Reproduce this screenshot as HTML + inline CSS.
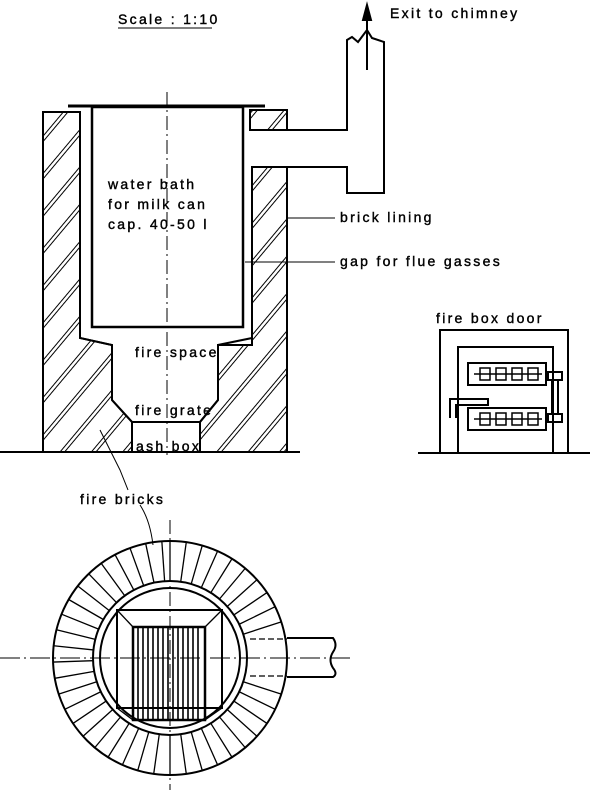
<!DOCTYPE html>
<html><head><meta charset="utf-8"><style>
body{margin:0;background:#fff}
svg{display:block}
text{font-family:"Liberation Sans",sans-serif;font-size:14px;fill:#000;letter-spacing:2.3px;stroke:#000;stroke-width:0.4}
</style></head><body>
<svg width="602" height="791" viewBox="0 0 602 791" xmlns="http://www.w3.org/2000/svg">
<defs>
<pattern id="h" patternUnits="userSpaceOnUse" width="24" height="24" patternTransform="rotate(40)">
<line x1="0" y1="0" x2="0" y2="24" stroke="#000" stroke-width="2"/>
<line x1="4" y1="0" x2="4" y2="24" stroke="#000" stroke-width="1"/>
</pattern>
</defs>
<g stroke="#000" stroke-width="2" fill="none">
<path d="M43,112 H80 V338 L112,345 V400 L132,422 V452 H43 Z" fill="url(#h)"/>
<path d="M252,167 H287 V452 H200 V422 L218,400 V345 H252 Z" fill="url(#h)"/>
<rect x="250" y="110" width="37" height="20" fill="url(#h)"/>
<path d="M43,112 H80 V338 L112,345 V400 L132,422 V452"/>
<path d="M287,167 V452 M252,167 V338 L218,345 V400 L200,422 V452"/>
<rect x="92" y="107" width="151" height="220" fill="#fff" stroke-width="2.5"/>
<line x1="68" y1="106" x2="265" y2="106" stroke-width="3"/>
<path d="M132,422 H200"/>
<path d="M287,130 H347 V40 L352,37 L358,42 L367,30 L372,38 L384,42 V193 H347 V167 H287"/>
<line x1="367" y1="70" x2="367" y2="8"/>
<path d="M363,20 L367,5 L371,20 Z" fill="#000"/>
<line x1="0" y1="452" x2="300" y2="452"/>
<line x1="418" y1="453" x2="590" y2="453"/>
<line x1="167" y1="92" x2="167" y2="455" stroke-width="1" stroke-dasharray="14,4,2,4"/>
<line x1="287" y1="218" x2="335" y2="218" stroke-width="1"/>
<line x1="245" y1="262" x2="335" y2="262" stroke-width="1"/>
<path d="M100,430 L120,470 L128,490" stroke-width="1"/>
<path d="M140,505 Q150,520 153,545" stroke-width="1"/>
<rect x="440" y="330" width="128" height="123"/>
<path d="M458,453 V347 H553 V453"/>
<rect x="468" y="363" width="78" height="22"/>
<rect x="468" y="408" width="78" height="22"/>
<g stroke-width="1.5">
<rect x="480" y="368" width="10" height="12"/><rect x="496" y="368" width="10" height="12"/><rect x="512" y="368" width="10" height="12"/><rect x="528" y="368" width="10" height="12"/>
<line x1="474" y1="374" x2="542" y2="374"/>
<rect x="480" y="413" width="10" height="12"/><rect x="496" y="413" width="10" height="12"/><rect x="512" y="413" width="10" height="12"/><rect x="528" y="413" width="10" height="12"/>
<line x1="474" y1="419" x2="542" y2="419"/>
</g>
<rect x="548" y="372" width="14" height="8"/><rect x="548" y="414" width="14" height="8"/>
<path d="M552,380 V414 M558,380 V414"/>
<path d="M450,418 V399 H488 V405 H456 V418"/>
<circle cx="170" cy="658" r="117"/>
<circle cx="170" cy="658" r="77"/>
<circle cx="170" cy="658" r="70"/>
<g stroke-width="1.3" id="bricks">
<line x1="170" y1="541" x2="170" y2="581" transform="rotate(0 170 658)"/>
<line x1="170" y1="541" x2="170" y2="581" transform="rotate(8 170 658)"/>
<line x1="170" y1="541" x2="170" y2="581" transform="rotate(16 170 658)"/>
<line x1="170" y1="541" x2="170" y2="581" transform="rotate(24 170 658)"/>
<line x1="170" y1="541" x2="170" y2="581" transform="rotate(32 170 658)"/>
<line x1="170" y1="541" x2="170" y2="581" transform="rotate(40 170 658)"/>
<line x1="170" y1="541" x2="170" y2="581" transform="rotate(48 170 658)"/>
<line x1="170" y1="541" x2="170" y2="581" transform="rotate(56 170 658)"/>
<line x1="170" y1="541" x2="170" y2="581" transform="rotate(64 170 658)"/>
<line x1="170" y1="541" x2="170" y2="581" transform="rotate(72 170 658)"/>
<line x1="170" y1="541" x2="170" y2="581" transform="rotate(108 170 658)"/>
<line x1="170" y1="541" x2="170" y2="581" transform="rotate(116 170 658)"/>
<line x1="170" y1="541" x2="170" y2="581" transform="rotate(124 170 658)"/>
<line x1="170" y1="541" x2="170" y2="581" transform="rotate(132 170 658)"/>
<line x1="170" y1="541" x2="170" y2="581" transform="rotate(140 170 658)"/>
<line x1="170" y1="541" x2="170" y2="581" transform="rotate(148 170 658)"/>
<line x1="170" y1="541" x2="170" y2="581" transform="rotate(156 170 658)"/>
<line x1="170" y1="541" x2="170" y2="581" transform="rotate(164 170 658)"/>
<line x1="170" y1="541" x2="170" y2="581" transform="rotate(172 170 658)"/>
<line x1="170" y1="541" x2="170" y2="581" transform="rotate(180 170 658)"/>
<line x1="170" y1="541" x2="170" y2="581" transform="rotate(188 170 658)"/>
<line x1="170" y1="541" x2="170" y2="581" transform="rotate(196 170 658)"/>
<line x1="170" y1="541" x2="170" y2="581" transform="rotate(204 170 658)"/>
<line x1="170" y1="541" x2="170" y2="581" transform="rotate(212 170 658)"/>
<line x1="170" y1="541" x2="170" y2="581" transform="rotate(220 170 658)"/>
<line x1="170" y1="541" x2="170" y2="581" transform="rotate(228 170 658)"/>
<line x1="170" y1="541" x2="170" y2="581" transform="rotate(236 170 658)"/>
<line x1="170" y1="541" x2="170" y2="581" transform="rotate(244 170 658)"/>
<line x1="170" y1="541" x2="170" y2="581" transform="rotate(252 170 658)"/>
<line x1="170" y1="541" x2="170" y2="581" transform="rotate(260 170 658)"/>
<line x1="170" y1="541" x2="170" y2="581" transform="rotate(268 170 658)"/>
<line x1="170" y1="541" x2="170" y2="581" transform="rotate(276 170 658)"/>
<line x1="170" y1="541" x2="170" y2="581" transform="rotate(284 170 658)"/>
<line x1="170" y1="541" x2="170" y2="581" transform="rotate(292 170 658)"/>
<line x1="170" y1="541" x2="170" y2="581" transform="rotate(300 170 658)"/>
<line x1="170" y1="541" x2="170" y2="581" transform="rotate(308 170 658)"/>
<line x1="170" y1="541" x2="170" y2="581" transform="rotate(316 170 658)"/>
<line x1="170" y1="541" x2="170" y2="581" transform="rotate(324 170 658)"/>
<line x1="170" y1="541" x2="170" y2="581" transform="rotate(332 170 658)"/>
<line x1="170" y1="541" x2="170" y2="581" transform="rotate(340 170 658)"/>
<line x1="170" y1="541" x2="170" y2="581" transform="rotate(348 170 658)"/>
<line x1="170" y1="541" x2="170" y2="581" transform="rotate(356 170 658)"/>
</g>
<path d="M287,638 H333 Q338,645 333,652 Q328,660 333,668 Q338,674 333,677 H287"/>
<path d="M250,639 H287 M250,676 H287" stroke-width="1.3" stroke-dasharray="6,3"/>
<rect x="117" y="610" width="105" height="98"/>
<rect x="133" y="627" width="72" height="93" stroke-width="2.5"/>
<path d="M117,610 L133,627 M222,610 L205,627 M117,708 L133,720 M222,708 L205,720" stroke-width="1.3"/>
<g stroke-width="1.6">
<path d="M138,627V720M143,627V720M148,627V720M153,627V720M158,627V720M163,627V720M168,627V720M173,627V720M178,627V720M183,627V720M188,627V720M193,627V720M198,627V720"/>
</g>
<line x1="170" y1="520" x2="170" y2="790" stroke-width="1" stroke-dasharray="14,4,2,4"/>
<line x1="0" y1="658" x2="350" y2="658" stroke-width="1" stroke-dasharray="20,4,2,4"/>
</g>
<text x="118" y="24">Scale : 1:10</text>
<line x1="118" y1="28" x2="212" y2="28" stroke="#000" stroke-width="1"/>
<text x="390" y="18">Exit to chimney</text>
<text x="108" y="189">water bath</text>
<text x="108" y="209">for milk can</text>
<text x="108" y="229">cap. 40-50 l</text>
<text x="340" y="222">brick lining</text>
<text x="340" y="266">gap for flue gasses</text>
<text x="135" y="357">fire space</text>
<text x="135" y="415">fire grate</text>
<text x="136" y="451">ash box</text>
<text x="80" y="504">fire bricks</text>
<text x="436" y="323">fire box door</text>
</svg>
</body></html>
